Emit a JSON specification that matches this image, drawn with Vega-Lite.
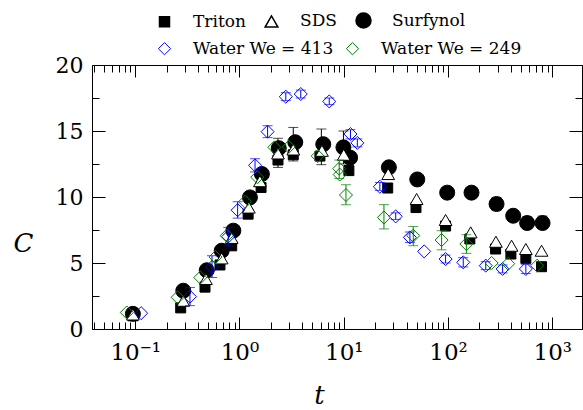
{
  "$schema": "https://vega.github.io/schema/vega-lite/v6.json",
  "width": 490,
  "height": 264,
  "autosize": {"type": "none"},
  "padding": {"left": 92, "top": 65, "right": 1, "bottom": 81},
  "background": "white",
  "config": {
    "font": "DejaVu Serif",
    "view": {"stroke": null},
    "axis": {"grid": false, "domainColor": "black", "tickColor": "black", "labelColor": "black", "titleColor": "black", "domainWidth": 1, "tickWidth": 1, "labelFont": "DejaVu Serif", "titleFont": "DejaVu Serif", "labelOverlap": false, "labelFlush": false},
    "legend": {"labelFont": "DejaVu Serif", "labelColor": "black", "padding": 0}
  },
  "datasets": {
    "surf": [
      {"series": "Surfynol", "t": 0.095, "C": 1.15},
      {"series": "Surfynol", "t": 0.289, "C": 2.9},
      {"series": "Surfynol", "t": 0.485, "C": 4.45},
      {"series": "Surfynol", "t": 0.675, "C": 5.93},
      {"series": "Surfynol", "t": 0.873, "C": 7.45},
      {"series": "Surfynol", "t": 1.26, "C": 9.97},
      {"series": "Surfynol", "t": 1.64, "C": 11.74},
      {"series": "Surfynol", "t": 2.38, "C": 13.7},
      {"series": "Surfynol", "t": 3.43, "C": 14.15},
      {"series": "Surfynol", "t": 6.36, "C": 14.0},
      {"series": "Surfynol", "t": 9.93, "C": 13.76},
      {"series": "Surfynol", "t": 11.5, "C": 12.98},
      {"series": "Surfynol", "t": 27.1, "C": 12.25},
      {"series": "Surfynol", "t": 50.7, "C": 11.33},
      {"series": "Surfynol", "t": 98.2, "C": 10.33},
      {"series": "Surfynol", "t": 168, "C": 10.33},
      {"series": "Surfynol", "t": 292, "C": 9.47},
      {"series": "Surfynol", "t": 422, "C": 8.58},
      {"series": "Surfynol", "t": 574, "C": 8.03},
      {"series": "Surfynol", "t": 807, "C": 8.03},
      {"series": "Triton", "t": 0.095, "C": 1.0},
      {"series": "Triton", "t": 0.273, "C": 1.6},
      {"series": "Triton", "t": 0.467, "C": 3.17},
      {"series": "Triton", "t": 0.65, "C": 4.85},
      {"series": "Triton", "t": 0.842, "C": 6.3},
      {"series": "Triton", "t": 1.21, "C": 8.7},
      {"series": "Triton", "t": 1.61, "C": 10.72},
      {"series": "Triton", "t": 2.34, "C": 12.8},
      {"series": "Triton", "t": 3.28, "C": 13.2},
      {"series": "Triton", "t": 5.91, "C": 13.1},
      {"series": "Triton", "t": 11.2, "C": 12.0},
      {"series": "Triton", "t": 26.4, "C": 10.68},
      {"series": "Triton", "t": 49.3, "C": 9.2},
      {"series": "Triton", "t": 94.8, "C": 7.8},
      {"series": "Triton", "t": 162, "C": 6.82},
      {"series": "Triton", "t": 286, "C": 6.06},
      {"series": "Triton", "t": 401, "C": 5.68},
      {"series": "Triton", "t": 558, "C": 5.35},
      {"series": "Triton", "t": 789, "C": 4.72},
      {"series": "SDS", "t": 0.095, "C": 1.1},
      {"series": "SDS", "t": 0.289, "C": 2.14},
      {"series": "SDS", "t": 0.477, "C": 3.79},
      {"series": "SDS", "t": 0.675, "C": 5.35},
      {"series": "SDS", "t": 0.842, "C": 6.9},
      {"series": "SDS", "t": 1.23, "C": 9.2},
      {"series": "SDS", "t": 1.57, "C": 11.2},
      {"series": "SDS", "t": 2.34, "C": 13.3},
      {"series": "SDS", "t": 3.28, "C": 13.6},
      {"series": "SDS", "t": 6.18, "C": 13.5},
      {"series": "SDS", "t": 10.0, "C": 13.2},
      {"series": "SDS", "t": 26.7, "C": 11.74},
      {"series": "SDS", "t": 50.0, "C": 9.85},
      {"series": "SDS", "t": 94.8, "C": 8.26},
      {"series": "SDS", "t": 165, "C": 7.32},
      {"series": "SDS", "t": 288, "C": 6.61},
      {"series": "SDS", "t": 407, "C": 6.31},
      {"series": "SDS", "t": 558, "C": 6.06},
      {"series": "SDS", "t": 789, "C": 5.93}
    ],
    "water": [
      {"series": "Water We = 413", "t": 0.114, "C": 1.2},
      {"series": "Water We = 413", "t": 0.335, "C": 2.45},
      {"series": "Water We = 413", "t": 0.545, "C": 4.7},
      {"series": "Water We = 413", "t": 0.78, "C": 7.0},
      {"series": "Water We = 413", "t": 0.96, "C": 9.0},
      {"series": "Water We = 413", "t": 1.41, "C": 12.4},
      {"series": "Water We = 413", "t": 1.86, "C": 14.95},
      {"series": "Water We = 413", "t": 2.78, "C": 17.6},
      {"series": "Water We = 413", "t": 3.87, "C": 17.8},
      {"series": "Water We = 413", "t": 7.26, "C": 17.24},
      {"series": "Water We = 413", "t": 11.6, "C": 14.77},
      {"series": "Water We = 413", "t": 13.5, "C": 14.1},
      {"series": "Water We = 413", "t": 22.2, "C": 10.78},
      {"series": "Water We = 413", "t": 31.5, "C": 8.53},
      {"series": "Water We = 413", "t": 43.1, "C": 6.94},
      {"series": "Water We = 413", "t": 59.1, "C": 5.88},
      {"series": "Water We = 413", "t": 94.8, "C": 5.3},
      {"series": "Water We = 413", "t": 140, "C": 5.05},
      {"series": "Water We = 413", "t": 230, "C": 4.8},
      {"series": "Water We = 413", "t": 334, "C": 4.55},
      {"series": "Water We = 413", "t": 558, "C": 4.55},
      {"series": "Water We = 249", "t": 0.083, "C": 1.25},
      {"series": "Water We = 249", "t": 0.255, "C": 2.4},
      {"series": "Water We = 249", "t": 0.421, "C": 3.9},
      {"series": "Water We = 249", "t": 0.589, "C": 5.45},
      {"series": "Water We = 249", "t": 0.754, "C": 7.07},
      {"series": "Water We = 249", "t": 1.13, "C": 9.64},
      {"series": "Water We = 249", "t": 1.48, "C": 11.5},
      {"series": "Water We = 249", "t": 2.16, "C": 13.76},
      {"series": "Water We = 249", "t": 2.97, "C": 13.8},
      {"series": "Water We = 249", "t": 5.63, "C": 13.1},
      {"series": "Water We = 249", "t": 9.05, "C": 12.15},
      {"series": "Water We = 249", "t": 9.15, "C": 11.7},
      {"series": "Water We = 249", "t": 10.5, "C": 10.15},
      {"series": "Water We = 249", "t": 24.3, "C": 8.45},
      {"series": "Water We = 249", "t": 46.4, "C": 7.07},
      {"series": "Water We = 249", "t": 86.8, "C": 6.74},
      {"series": "Water We = 249", "t": 150, "C": 6.44},
      {"series": "Water We = 249", "t": 262, "C": 5.0},
      {"series": "Water We = 249", "t": 378, "C": 4.95},
      {"series": "Water We = 249", "t": 716, "C": 4.8}
    ],
    "errSurf": [
      {"t": 2.34, "lo": 12.24, "hi": 14.45},
      {"t": 3.28, "lo": 12.73, "hi": 15.27},
      {"t": 6.1, "lo": 12.45, "hi": 15.15},
      {"t": 9.93, "lo": 12.5, "hi": 15.0},
      {"t": 292, "lo": 9.0, "hi": 9.95},
      {"t": 422, "lo": 8.15, "hi": 8.96},
      {"t": 574, "lo": 7.7, "hi": 8.5},
      {"t": 807, "lo": 7.6, "hi": 8.55}
    ],
    "err413": [
      {"t": 0.335, "lo": 1.77, "hi": 3.15},
      {"t": 0.545, "lo": 3.9, "hi": 5.55},
      {"t": 0.78, "lo": 6.3, "hi": 7.7},
      {"t": 0.96, "lo": 8.4, "hi": 9.64},
      {"t": 1.41, "lo": 11.9, "hi": 12.9},
      {"t": 1.86, "lo": 14.5, "hi": 15.4},
      {"t": 2.78, "lo": 17.3, "hi": 17.9},
      {"t": 3.87, "lo": 17.5, "hi": 18.1},
      {"t": 7.26, "lo": 17.0, "hi": 17.5},
      {"t": 11.6, "lo": 14.4, "hi": 15.1},
      {"t": 13.5, "lo": 13.8, "hi": 14.4},
      {"t": 22.2, "lo": 10.5, "hi": 11.1},
      {"t": 31.5, "lo": 8.3, "hi": 8.8},
      {"t": 43.1, "lo": 6.55, "hi": 7.35},
      {"t": 94.8, "lo": 5.0, "hi": 5.6},
      {"t": 140, "lo": 4.7, "hi": 5.4},
      {"t": 230, "lo": 4.5, "hi": 5.1},
      {"t": 334, "lo": 4.25, "hi": 4.85},
      {"t": 558, "lo": 4.2, "hi": 4.9}
    ],
    "err249": [
      {"t": 9.05, "lo": 11.4, "hi": 12.8},
      {"t": 10.5, "lo": 9.42, "hi": 10.93},
      {"t": 24.3, "lo": 7.58, "hi": 9.42},
      {"t": 46.4, "lo": 6.31, "hi": 7.77},
      {"t": 86.8, "lo": 6.0, "hi": 7.45},
      {"t": 150, "lo": 5.73, "hi": 7.14}
    ]
  },
  "layer": [
    {
      "data": {"name": "errSurf"},
      "mark": {"type": "errorbar", "ticks": {"size": 10}, "rule": {"strokeWidth": 1}},
      "encoding": {
        "x": {"field": "t", "type": "quantitative", "scale": {"type": "log", "domain": [0.0385, 1928]}, "axis": null},
        "y": {"field": "lo", "type": "quantitative", "scale": {"domain": [0, 20]}, "axis": null},
        "y2": {"field": "hi"},
        "color": {"value": "black"}
      }
    },
    {
      "data": {"name": "surf"},
      "mark": {"type": "point", "filled": true, "stroke": "black", "strokeWidth": 1, "opacity": 1},
      "encoding": {
        "x": {
          "field": "t", "type": "quantitative",
          "scale": {"type": "log", "domain": [0.0385, 1928]},
          "axis": {
            "orient": "bottom",
            "values": [0.04, 0.05, 0.06, 0.07, 0.08, 0.09, 0.1, 0.2, 0.3, 0.4, 0.5, 0.6, 0.7, 0.8, 0.9, 1, 2, 3, 4, 5, 6, 7, 8, 9, 10, 20, 30, 40, 50, 60, 70, 80, 90, 100, 200, 300, 400, 500, 600, 700, 800, 900, 1000],
            "labelExpr": "datum.value == 0.1 ? '10⁻¹' : datum.value == 1 ? '10⁰' : datum.value == 10 ? '10¹' : datum.value == 100 ? '10²' : datum.value == 1000 ? '10³' : ''",
            "tickSize": {"condition": {"test": "datum.value == 0.1 || datum.value == 1 || datum.value == 10 || datum.value == 100 || datum.value == 1000", "value": -12}, "value": -7},
            "labelFontSize": 23,
            "labelPadding": 24,
            "title": "t",
            "titleFontSize": 26,
            "titleFontStyle": "italic",
            "titleFontWeight": "normal",
            "titleX": 227,
            "titleY": 66,
            "titleAlign": "center",
            "titleBaseline": "middle"
          }
        },
        "y": {
          "field": "C", "type": "quantitative",
          "scale": {"domain": [0, 20]},
          "axis": {
            "orient": "left",
            "values": [0, 2.5, 5, 7.5, 10, 12.5, 15, 17.5, 20],
            "labelExpr": "datum.value % 5 == 0 ? datum.label : ''",
            "tickSize": {"condition": {"test": "datum.value % 5 == 0", "value": -13}, "value": -7},
            "labelFontSize": 22,
            "labelPadding": 22,
            "title": "C",
            "titleAngle": 0,
            "titleFontSize": 26,
            "titleFontStyle": "italic",
            "titleFontWeight": "normal",
            "titleX": -69,
            "titleY": 178,
            "titleAlign": "center",
            "titleBaseline": "middle"
          }
        },
        "shape": {"field": "series", "type": "nominal", "scale": {"domain": ["Triton", "SDS", "Surfynol"], "range": ["square", "triangle-up", "circle"]},
          "legend": {"orient": "none", "legendX": 64, "legendY": -53, "direction": "horizontal", "title": null, "labelFontSize": 17, "labelOffset": 20, "columnPadding": 16,
            "encode": {"symbols": {"update": {"stroke": {"value": "black"}, "strokeWidth": {"value": 1}}}}}},
        "fill": {"field": "series", "type": "nominal", "scale": {"domain": ["Triton", "SDS", "Surfynol"], "range": ["black", "white", "black"]},
          "legend": {"orient": "none", "legendX": 64, "legendY": -53, "direction": "horizontal", "title": null, "labelFontSize": 17, "labelOffset": 20, "columnPadding": 16,
            "encode": {"symbols": {"update": {"stroke": {"value": "black"}, "strokeWidth": {"value": 1}}}}}},
        "size": {"field": "series", "type": "nominal", "scale": {"domain": ["Triton", "SDS", "Surfynol"], "range": [100, 225, 120]},
          "legend": {"orient": "none", "legendX": 64, "legendY": -53, "direction": "horizontal", "title": null, "labelFontSize": 17, "labelOffset": 20, "columnPadding": 16,
            "encode": {"symbols": {"update": {"stroke": {"value": "black"}, "strokeWidth": {"value": 1}}}}}}
      }
    },
    {
      "data": {"name": "err413"},
      "mark": {"type": "errorbar", "ticks": {"size": 10}, "rule": {"strokeWidth": 1}},
      "encoding": {
        "x": {"field": "t", "type": "quantitative", "scale": {"type": "log", "domain": [0.0385, 1928]}, "axis": null},
        "y": {"field": "lo", "type": "quantitative", "scale": {"domain": [0, 20]}, "axis": null},
        "y2": {"field": "hi"},
        "color": {"value": "#0000ff"}
      }
    },
    {
      "data": {"name": "err249"},
      "mark": {"type": "errorbar", "ticks": {"size": 10}, "rule": {"strokeWidth": 1}},
      "encoding": {
        "x": {"field": "t", "type": "quantitative", "scale": {"type": "log", "domain": [0.0385, 1928]}, "axis": null},
        "y": {"field": "lo", "type": "quantitative", "scale": {"domain": [0, 20]}, "axis": null},
        "y2": {"field": "hi"},
        "color": {"value": "#008000"}
      }
    },
    {
      "data": {"name": "water"},
      "mark": {"type": "point", "shape": "diamond", "filled": false, "size": 170, "strokeWidth": 1, "opacity": 1},
      "encoding": {
        "x": {
          "field": "t", "type": "quantitative",
          "scale": {"type": "log", "domain": [0.0385, 1928]},
          "axis": {
            "orient": "top",
            "values": [0.04, 0.05, 0.06, 0.07, 0.08, 0.09, 0.1, 0.2, 0.3, 0.4, 0.5, 0.6, 0.7, 0.8, 0.9, 1, 2, 3, 4, 5, 6, 7, 8, 9, 10, 20, 30, 40, 50, 60, 70, 80, 90, 100, 200, 300, 400, 500, 600, 700, 800, 900, 1000],
            "labels": false,
            "title": null,
            "tickSize": {"condition": {"test": "datum.value == 0.1 || datum.value == 1 || datum.value == 10 || datum.value == 100 || datum.value == 1000", "value": -12}, "value": -7}
          }
        },
        "y": {
          "field": "C", "type": "quantitative",
          "scale": {"domain": [0, 20]},
          "axis": {
            "orient": "right",
            "values": [0, 2.5, 5, 7.5, 10, 12.5, 15, 17.5, 20],
            "labels": false,
            "title": null,
            "tickSize": {"condition": {"test": "datum.value % 5 == 0", "value": -13}, "value": -7}
          }
        },
        "color": {"field": "series", "type": "nominal", "scale": {"domain": ["Water We = 413", "Water We = 249"], "range": ["#0000ff", "#008000"]},
          "legend": {"orient": "none", "legendX": 64, "legendY": -25, "direction": "horizontal", "title": null, "labelFontSize": 17, "labelOffset": 20, "columnPadding": 10, "symbolType": "diamond", "symbolSize": 150, "symbolStrokeWidth": 1, "symbolFillColor": "transparent"}}
      }
    }
  ],
  "resolve": {"axis": {"x": "independent", "y": "independent"}}
}
